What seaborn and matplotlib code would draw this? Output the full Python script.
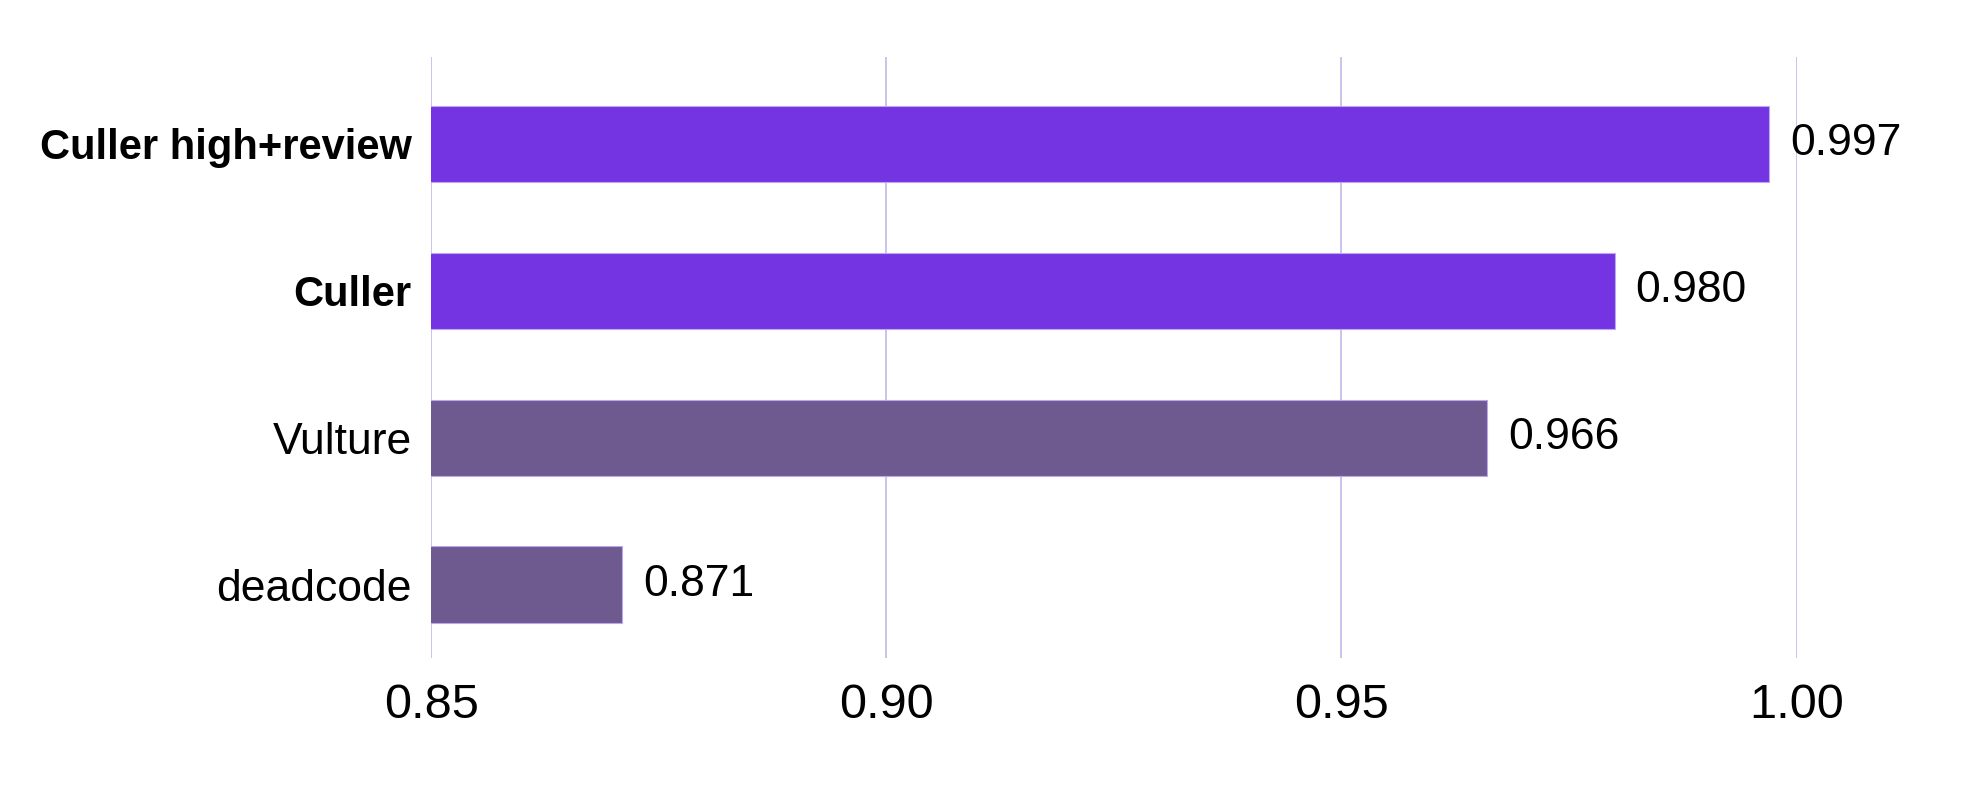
import pandas as pd
import matplotlib
matplotlib.use('Agg')
import matplotlib.pyplot as plt
import seaborn as sns

# data
tools = ['Culler high+review', 'Culler', 'Vulture', 'deadcode']
scores = [0.997, 0.980, 0.966, 0.871]
highlight = [True, True, False, False]
xticks = [0.85, 0.90, 0.95, 1.00]

VIVID = '#7434E2'
MUTED = '#6E5A8F'
GRID = '#C9BDEB'

sns.set_theme(style='white')
plt.rcParams['font.family'] = ['Liberation Sans', 'DejaVu Sans']

df = pd.DataFrame({'tool': tools, 'score': scores, 'ours': highlight})

fig = plt.figure(figsize=(19.83, 7.93), dpi=100)
ax = fig.add_axes([0.2175, 0.17, 0.6885, 0.758])

for x in xticks:
    ax.axvline(x, color=GRID, lw=1.3, zorder=0)

sns.barplot(data=df, y='tool', x='score', hue='ours', orient='h',
            palette={True: VIVID, False: MUTED}, width=0.52, saturation=1,
            legend=False, ax=ax, zorder=2, edgecolor='#B9A8EE', linewidth=0.8)

ax.set_xlim(0.85, 1.0)
ax.set_ylim(3.5, -0.59)
ax.set_xticks(xticks)
ax.set_xticklabels([f'{x:.2f}' for x in xticks], fontsize=35)
ax.set_xlabel('')
ax.set_ylabel('')
ax.tick_params(axis='x', length=0, pad=18)
ax.tick_params(axis='y', length=0, pad=14)
for lbl, bold in zip(ax.get_yticklabels(), highlight):
    lbl.set_fontsize(30 if bold else 32)
    lbl.set_fontweight('bold' if bold else 'normal')
    lbl.set_color('black')
for lbl in ax.get_xticklabels():
    lbl.set_color('black')

for i, v in enumerate(scores):
    ax.annotate(f'{v:.3f}', xy=(v, i), xytext=(15, 0), textcoords='offset points',
                va='center', ha='left', fontsize=32, color='black',
                annotation_clip=False)

sns.despine(ax=ax, left=True, bottom=True)
fig.savefig('out.png', dpi=100, facecolor='white')
